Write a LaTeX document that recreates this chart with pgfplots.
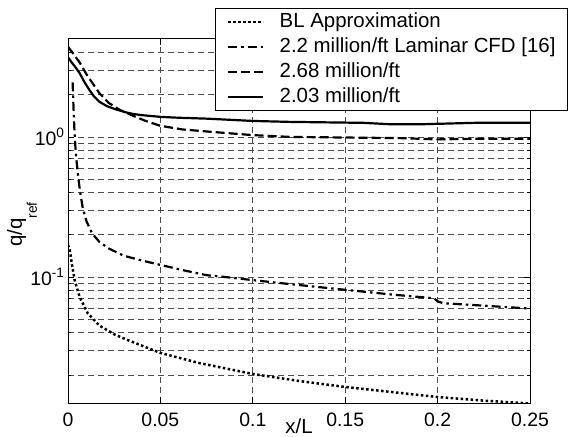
\documentclass[border=0pt]{standalone}
\usepackage{fontspec}
\setmainfont{Liberation Sans}
\usepackage{pgfplots}
\pgfplotsset{compat=1.18}
\newcommand{\lgfont}{\fontsize{20.5}{24}\selectfont}
\newcommand{\tkfont}{\fontsize{19.5}{23}\selectfont}
\begin{document}
\begin{tikzpicture}
\begin{axis}[
  at={(68bp,34bp)}, anchor=south west,
  scale only axis, width=462bp, height=364bp,
  ymode=log, xmin=0, xmax=0.25, ymin=0.0126, ymax=5,
  xtick={0,0.05,0.1,0.15,0.2,0.25},
  xticklabels={0,0.05,0.1,0.15,0.2,0.25},
  ytick={0.1,1},
  yticklabels={10\textsuperscript{-1},10\textsuperscript{0}},
  minor ytick={0.02,0.03,0.04,0.05,0.06,0.07,0.08,0.09,0.2,0.3,0.4,0.5,0.6,0.7,0.8,0.9,2,3,4},
  xmajorgrids=true, ymajorgrids=true, yminorgrids=true,
  grid style={dash pattern=on 6bp off 4bp, black!70, line width=0.7bp},
  minor grid style={dash pattern=on 6bp off 4bp, black!70, line width=0.7bp},
  tick align=inside, major tick length=6bp, minor tick length=3bp,
  tick style={black, line width=0.8bp},
  axis line style={black, line width=1bp},
  xticklabel style={font=\tkfont, anchor=base, yshift=-23bp},
  yticklabel style={font=\tkfont},
  xlabel={x/L},
  xlabel style={at={(axis description cs:0.5,-0.0845)}, anchor=base, font=\lgfont},
  ylabel={q/q\raisebox{-15bp}{\fontsize{14}{16}\selectfont ref}},
  ylabel style={at={(axis description cs:-0.0996,0.49)}, anchor=base, rotate=0, font=\lgfont},
  legend cell align=left,
  legend style={at={(axis description cs:0.3175,1.0852)}, anchor=north west,
    draw=black, line width=1bp, fill=white, inner xsep=12bp, inner ysep=6bp,
    font=\lgfont, row sep=10bp,
    nodes={inner sep=0pt, text height=13bp, text depth=2bp, font=\lgfont},
    /tikz/every odd column/.append style={column sep=15bp}},
  legend image code/.code={\draw[#1] (0bp,0bp) -- (35bp,0bp);},
]
% BL Approximation
\addplot[black, line width=2.5bp, dash pattern=on 2.5bp off 2.5bp] coordinates {
(0,0.17) (0.001,0.155) (0.002,0.126) (0.0036,0.095) (0.0063,0.072) (0.0107,0.055)
(0.017,0.045) (0.025,0.039) (0.032,0.0356) (0.05,0.0287) (0.071,0.0243) (0.1,0.0203)
(0.125,0.0181) (0.15,0.0164) (0.175,0.0151) (0.2,0.0139) (0.225,0.0131) (0.25,0.0125)
};
\addlegendentry{BL Approximation}
% 2.2 million/ft Laminar CFD
\addplot[black, line width=2.2bp, dash pattern=on 9bp off 4bp on 2.5bp off 4bp] coordinates {
(0.0025,2.45) (0.003,1.6) (0.0035,1.1) (0.004,0.85) (0.0045,0.7) (0.0055,0.52)
(0.0065,0.41) (0.008,0.31) (0.01,0.25) (0.013,0.205) (0.017,0.178) (0.022,0.16)
(0.03,0.142) (0.04,0.131) (0.05,0.122) (0.062,0.112) (0.075,0.103) (0.085,0.1)
(0.1,0.095) (0.12,0.089) (0.15,0.081) (0.175,0.075) (0.198,0.0705) (0.2,0.067)
(0.203,0.065) (0.22,0.063) (0.25,0.0595)
};
\addlegendentry{2.2 million/ft Laminar CFD [16]}
% 2.68 million/ft
\addplot[black, line width=2.2bp, dash pattern=on 9bp off 4bp] coordinates {
(0,4.4) (0.003,3.9) (0.0063,3.4) (0.01,2.8) (0.013,2.45) (0.017,2.05) (0.022,1.75)
(0.028,1.56) (0.032,1.48) (0.035,1.42) (0.042,1.3) (0.05,1.2) (0.062,1.13)
(0.08,1.08) (0.1,1.03) (0.12,1.0) (0.15,0.99) (0.18,0.98) (0.2,0.96) (0.22,0.97) (0.25,0.97)
};
\addlegendentry{2.68 million/ft}
% 2.03 million/ft
\addplot[black, line width=2.2bp] coordinates {
(0,3.7) (0.002,3.4) (0.004,3.15) (0.0063,2.85) (0.009,2.45) (0.0117,2.15) (0.014,1.95)
(0.017,1.78) (0.021,1.66) (0.026,1.57) (0.032,1.49) (0.035,1.46) (0.04,1.43) (0.05,1.39)
(0.06,1.37) (0.075,1.35) (0.09,1.32) (0.1,1.30) (0.12,1.28) (0.14,1.27) (0.16,1.26)
(0.175,1.23) (0.19,1.23) (0.2,1.24) (0.22,1.26) (0.25,1.26)
};
\addlegendentry{2.03 million/ft}
\end{axis}
\pgfresetboundingbox
\path[use as bounding box] (0,0) rectangle (573bp,437bp);
\end{tikzpicture}
\end{document}
